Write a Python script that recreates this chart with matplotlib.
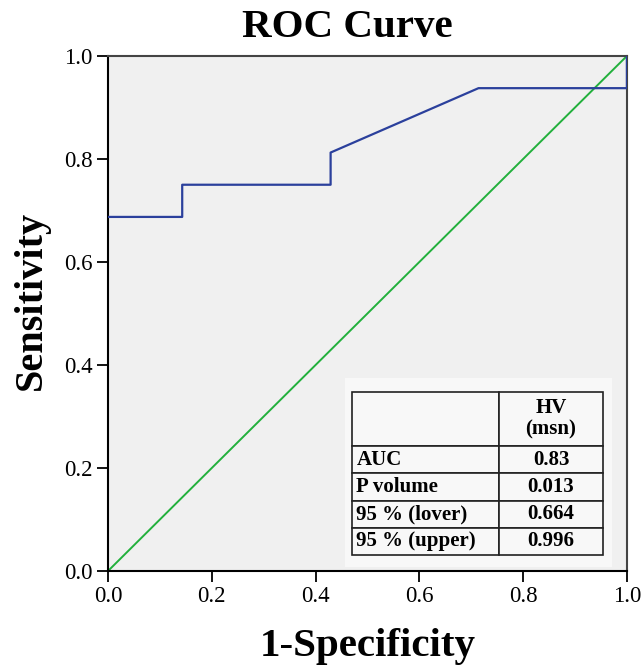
import matplotlib
matplotlib.use("Agg")
from matplotlib import pyplot as plt

plt.rcParams['font.family'] = ['Liberation Serif', 'DejaVu Serif']

# ROC curve points (1-specificity, sensitivity)
fpr = [0.0, 0.143, 0.143, 0.429, 0.429, 0.714, 1.0, 1.0]
tpr = [0.6875, 0.6875, 0.75, 0.75, 0.8125, 0.9375, 0.9375, 1.0]
ref_x = [0.0, 1.0]
ref_y = [0.0, 1.0]

row_labels = ["", "AUC", "P volume", "95 % (lover)", "95 % (upper)"]
col_values = ["HV\n(msn)", "0.83", "0.013", "0.664", "0.996"]

ticks = [0.0, 0.2, 0.4, 0.6, 0.8, 1.0]

fig = plt.figure(figsize=(6.41, 6.68), dpi=100)
ax = fig.add_axes([0.1685, 0.1452, 0.8095, 0.771])
ax.set_facecolor("#f0f0f0")

ax.plot(ref_x, ref_y, color="#22b03c", lw=1.4, zorder=2)
ax.plot(fpr, tpr, color="#2b409c", lw=1.6, zorder=3)

ax.set_xlim(0, 1)
ax.set_ylim(0, 1)
ax.set_xticks(ticks)
ax.set_yticks(ticks)
ax.set_xticklabels(["{:.1f}".format(t) for t in ticks])
ax.set_yticklabels(["{:.1f}".format(t) for t in ticks])
ax.tick_params(direction="out", length=8, width=1.3, labelsize=16.5, pad=3)

for s in ["left", "bottom"]:
    ax.spines[s].set_color("black")
    ax.spines[s].set_linewidth(1.5)
for s in ["top", "right"]:
    ax.spines[s].set_color("#444444")
    ax.spines[s].set_linewidth(1.5)

ax.set_title("ROC Curve", fontsize=29.5, fontweight="bold", pad=14, x=0.462)
ax.set_xlabel("1-Specificity", fontsize=29.5, fontweight="bold", labelpad=15)
ax.set_ylabel("Sensitivity", fontsize=29, fontweight="bold")
ax.yaxis.set_label_coords(-0.112, 0.526)

# white panel behind the table
panel = plt.Rectangle((0.457, 0.008), 0.514, 0.367, transform=ax.transAxes,
                      facecolor="#f8f8f8", edgecolor="none", zorder=4)
ax.add_patch(panel)

tab = ax.table(cellText=[[r, v] for r, v in zip(row_labels, col_values)],
               colWidths=[0.586, 0.414], bbox=[0.470, 0.031, 0.484, 0.317],
               zorder=5)
tab.auto_set_font_size(False)
heights = [54, 27, 27, 27, 27]
total = sum(heights)
for (r, c), cell in tab.get_celld().items():
    cell.set_height(0.317 * heights[r] / total)
    cell.set_facecolor("#f8f8f8")
    cell.set_edgecolor("#222222")
    cell.set_linewidth(1.2)
    txt = cell.get_text()
    txt.set_fontsize(15)
    txt.set_fontweight("bold")
    if c == 0:
        txt.set_ha("left")
        cell.PAD = 0.03
    else:
        txt.set_ha("center")
    if r == 0:
        txt.set_linespacing(1.1)

fig.savefig("out.png", dpi=100)
